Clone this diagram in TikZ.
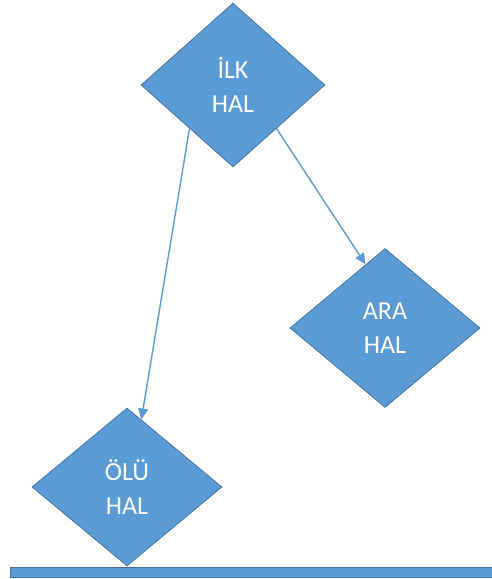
\documentclass[tikz,border=0pt]{standalone}
\usepackage{fontspec}
\setmainfont{Carlito}
\usetikzlibrary{shapes.geometric,arrows.meta}
\definecolor{halmavi}{HTML}{5B9BD5}
\definecolor{halkenar}{HTML}{41719C}
\tikzset{
	hal/.style={diamond, aspect=1, fill=halmavi, draw=halkenar, line width=0.7pt, text=white, align=center, inner sep=0pt, font=\fontsize{26}{34}\selectfont},
	gecis/.style={draw=halmavi, line width=1.4pt, -{Triangle[length=11pt,width=10pt]}}
}
\begin{document}
\begin{tikzpicture}[x=1pt,y=-1pt]
				\useasboundingbox (0,0) rectangle (492,579);
				\node[hal, minimum width=184pt, minimum height=164pt] (ilk) at (233,85) {İLK\\HAL};
				\node[hal, minimum width=190pt, minimum height=159pt] (ara) at (385,328) {ARA\\HAL};
				\node[hal, minimum width=190pt, minimum height=158pt] (olu) at (127,487) {ÖLÜ\\HAL};
				\fill[halmavi, draw=halkenar, line width=0.7pt] (10,567) rectangle (492,577);
				\draw[gecis] (ilk.-135) -- (olu.78);
				\draw[gecis] (ilk.-45) -- (ara.107);
			\end{tikzpicture}
\end{document}
